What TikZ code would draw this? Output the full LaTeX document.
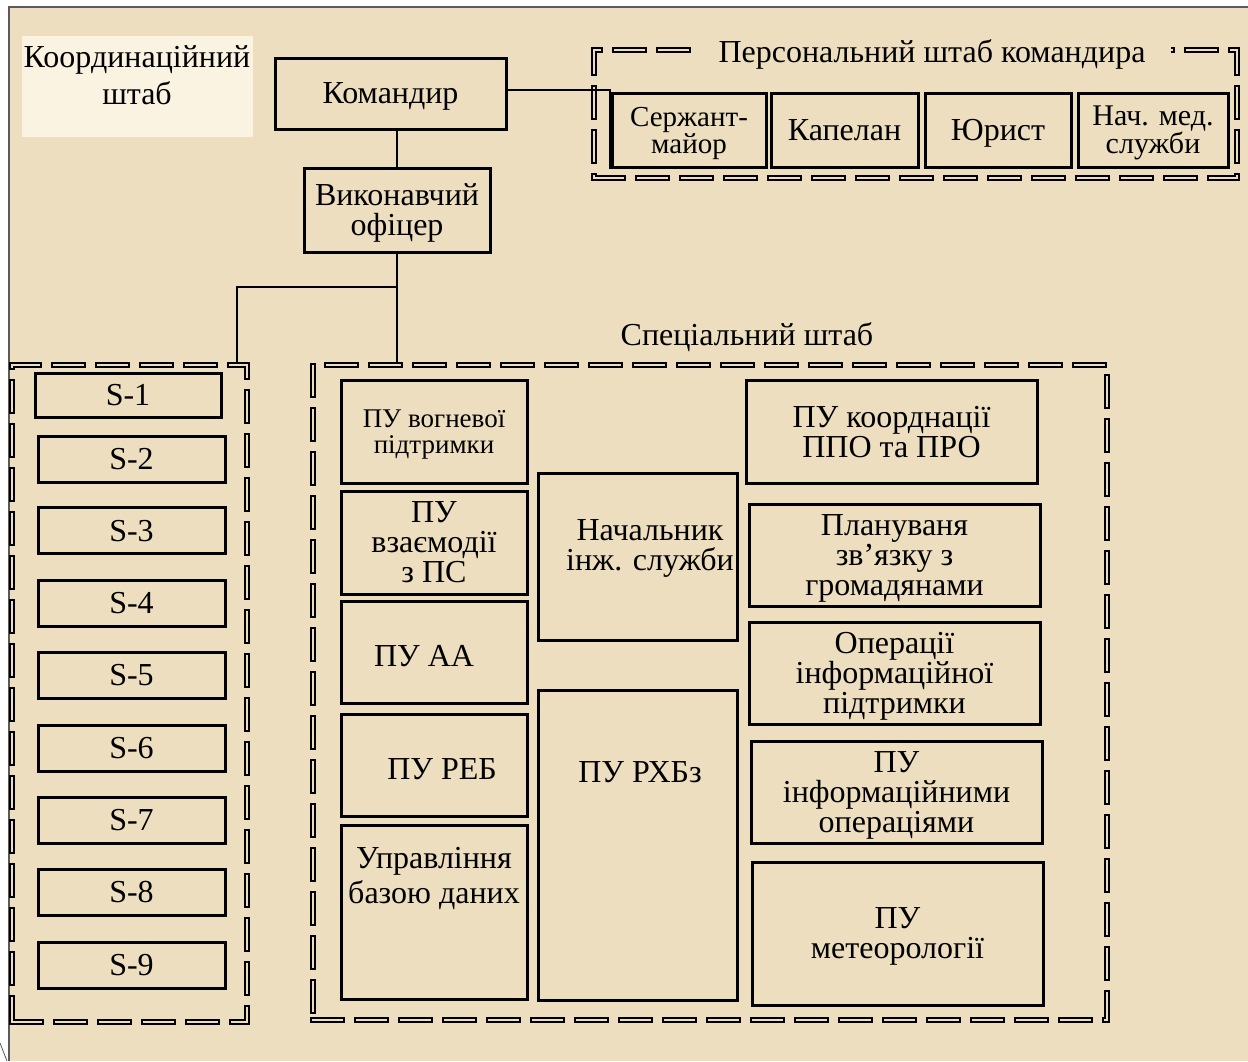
\documentclass[tikz,border=0pt]{standalone}
\usepackage{fontspec}
\setmainfont{Liberation Serif}
\definecolor{parch}{RGB}{236,222,190}
\definecolor{pale}{RGB}{251,243,225}
\definecolor{framegray}{RGB}{90,90,90}
\tikzset{
  box/.style={draw=black, line width=3pt, inner sep=0pt, align=center,
    text depth=0pt, font=\fontsize{32}{30}\selectfont},
  txt/.style={inner sep=0pt, align=center, font=\fontsize{32}{30}\selectfont},
  grp/.style={draw=black, line width=1.4pt, double=parch, double distance=2.4pt,
    dash pattern=on 29pt off 15pt, line cap=rect, inner sep=0pt},
  link/.style={draw=black, line width=2pt},
}
\begin{document}
\begin{tikzpicture}[x=1pt,y=-1pt]
% page, parchment and frame
\fill[white] (0,0) rectangle (1248,1061);
\useasboundingbox (0,0) rectangle (1248,1061);
\fill[parch] (9,7) rectangle (1248,1061);
\draw[framegray, line width=1.5pt] (9,1061) -- (9,7) -- (1248,7);
\draw[framegray, line width=0.8pt] (0,1043) -- (7,1061);

% coordinating staff label
\fill[pale] (22,36) rectangle (253,137);
\node[txt, font=\fontsize{32}{37}\selectfont] (coordlbl) at (137,75) {Координаційний\\штаб};

% commander and executive officer
\node[box, minimum width=231, minimum height=71] (cmd) at (390.5,93.5) {Командир};
\node[box, minimum width=186, minimum height=84] (xo) at (397,210) {Виконавчий\\офіцер};

% personal staff
\node[grp, minimum width=643, minimum height=128] (pers) at (915.5,114) {};
\node[txt, fill=parch, inner xsep=26pt, inner ysep=4pt] (perslbl) at (932,54) {Персональний штаб командира};
\node[box, minimum width=154, minimum height=74, font=\fontsize{29}{27}\selectfont] (sgt) at (689,130) {Сержант-\\майор};
\node[box, minimum width=147, minimum height=74] (chap) at (844.5,130) {Капелан};
\node[box, minimum width=146, minimum height=74] (law) at (998,130) {Юрист};
\node[box, minimum width=150, minimum height=74, font=\fontsize{30}{27}\selectfont] (med) at (1153,130) {Нач. мед.\\служби};

% coordinating staff
\node[grp, minimum width=235, minimum height=657] (coord) at (129.5,693.5) {};
\node[box, minimum width=186, minimum height=44] (s1) at (128,395) {S-1};
\node[box, minimum width=187, minimum height=46] (s2) at (131.5,459) {S-2};
\node[box, minimum width=187, minimum height=46] (s3) at (131.5,530.5) {S-3};
\node[box, minimum width=187, minimum height=46] (s4) at (131.5,603) {S-4};
\node[box, minimum width=187, minimum height=46] (s5) at (131.5,675) {S-5};
\node[box, minimum width=187, minimum height=46] (s6) at (131.5,748) {S-6};
\node[box, minimum width=187, minimum height=46] (s7) at (131.5,820) {S-7};
\node[box, minimum width=187, minimum height=46] (s8) at (131.5,892) {S-8};
\node[box, minimum width=187, minimum height=46] (s9) at (131.5,965) {S-9};

% special staff
\node[grp, minimum width=794, minimum height=655] (spec) at (710,692.5) {};
\node[txt] (speclbl) at (747,337) {Спеціальний штаб};
\node[box, minimum width=186, minimum height=103, font=\fontsize{27}{26}\selectfont] (fire) at (434,431.5) {ПУ вогневої\\підтримки};
\node[box, minimum width=186, minimum height=103] (civmil) at (434,542.5) {ПУ\\взаємодії\\з ПС};
\node[box, minimum width=186, minimum height=102] (aa) at (434,652) {};
\node[txt] (aatxt) at (424,656) {ПУ АА};
\node[box, minimum width=186, minimum height=102] (reb) at (434,765) {};
\node[txt] (rebtxt) at (442,769) {ПУ РЕБ};
\node[box, minimum width=186, minimum height=174] (db) at (434,912) {};
\node[txt, font=\fontsize{32}{35}\selectfont] (dbtxt) at (434,878) {Управління\\базою даних};
\node[box, minimum width=199, minimum height=167] (eng) at (637.5,556.5) {};
\node[txt] (engtxt) at (650,548) {Начальник\\інж. служби};
\node[box, minimum width=199, minimum height=310] (rhbz) at (637.5,845) {};
\node[txt] (rhbztxt) at (640,772) {ПУ РХБз};
\node[box, minimum width=291, minimum height=103] (ppo) at (891.5,431.5) {ПУ коорднації\\ППО та ПРО};
\node[box, minimum width=291, minimum height=102] (civ) at (894.5,555) {Плануваня\\зв’язку з\\громадянами};
\node[box, minimum width=291, minimum height=102] (iosup) at (894.5,673) {Операції\\інформаційної\\підтримки};
\node[box, minimum width=291, minimum height=102] (ioper) at (896.5,792) {ПУ\\інформаційними\\операціями};
\node[box, minimum width=291, minimum height=143] (met) at (897.5,933.5) {ПУ\\метеорології};

% connectors
\draw[link] (xo.north) -- (xo.north |- cmd.south);
\draw[link] (xo.south) -- (xo.south |- spec.north);
\coordinate (br) at (398,287);
\coordinate (cj) at (237,287);
\draw[link] (br) -- (cj) -- (cj |- coord.north);
\coordinate (pj) at (610,90);
\draw[link] (cmd.east |- pj) -- (pj) -- (pj |- sgt.south);
\end{tikzpicture}
\end{document}
